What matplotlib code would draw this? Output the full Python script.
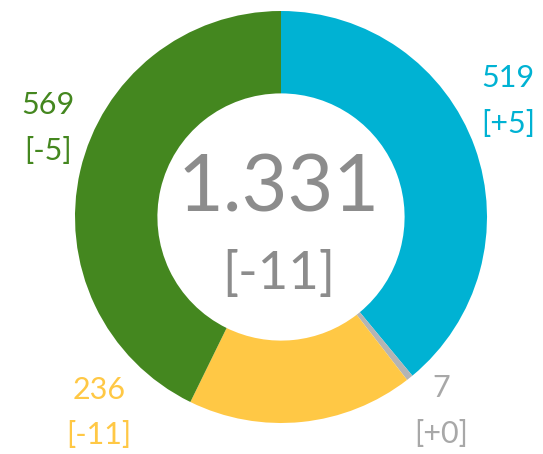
import matplotlib.pyplot as plt

valores = [519, 7, 236, 569]
variacao = ['[+5]', '[+0]', '[-11]', '[-5]']
cores = ['#00b2d3', '#b4b4b4', '#ffc845', '#44871f']
total = 1331
total_var = '[-11]'

fig = plt.figure(figsize=(5.43, 4.54), dpi=100)
ax = fig.add_axes([0, 0, 1, 1])

raio = 206
centro = (281, 454 - 217)
ax.pie(valores, colors=cores, startangle=90, counterclock=False,
       radius=raio, center=centro, frame=True,
       wedgeprops=dict(width=raio * 0.4, linewidth=0))

fonte = 'Lato'
ax.text(279, 454 - 190, '1.331', ha='center', va='center', fontsize=57,
        color='#8c8c8c', family=fonte)
ax.text(279, 454 - 274, total_var, ha='center', va='center', fontsize=38,
        color='#8c8c8c', family=fonte)

# rotulos (posicao x, y em pixels a partir do topo)
pos = [(508, 78, 124), (441, 388, 434), (99, 390, 435), (48, 105, 151)]
cores_txt = ['#00b2d3', '#a8a8a8', '#ffc845', '#44871f']
for v, d, c, (x, y1, y2) in zip(valores, variacao, cores_txt, pos):
    ax.text(x, 454 - y1, str(v), ha='center', va='center', fontsize=22,
            color=c, family=fonte)
    ax.text(x, 454 - y2, d, ha='center', va='center', fontsize=22,
            color=c, family=fonte)

ax.set_xlim(0, 543)
ax.set_ylim(0, 454)
ax.set_aspect('equal')
ax.axis('off')

plt.savefig('out.png', dpi=100)
